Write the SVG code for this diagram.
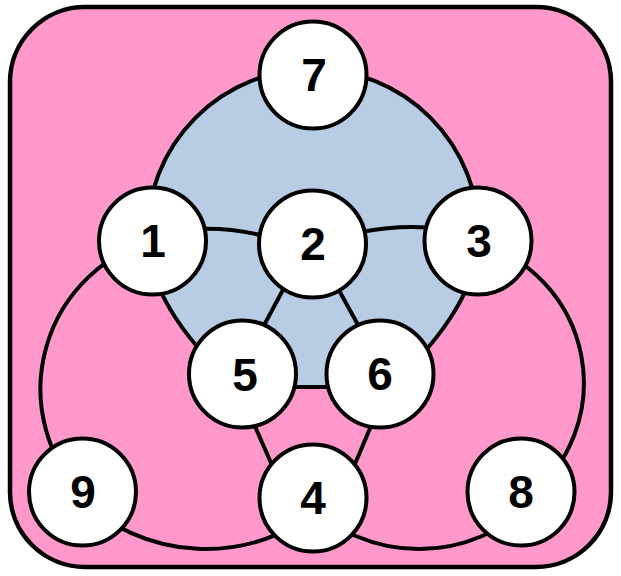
<svg xmlns="http://www.w3.org/2000/svg" width="621" height="576" viewBox="0 0 621 576">
  <style>
    .edge { fill: none; stroke: #000; stroke-width: 4; }
    .node circle { fill: #fff; stroke: #000; stroke-width: 4; }
    .node text { font-family: "Liberation Sans", "DejaVu Sans", sans-serif; font-weight: bold; font-size: 46px; text-anchor: middle; fill: #000; }
  </style>
  <rect x="10" y="7" width="601" height="560" rx="75" ry="75" fill="#ff99cc" stroke="#000" stroke-width="4.5"/>
  <path id="blue-region" d="M147,235 A166,166 0 0 1 479,235 C479,290 434,350 386,387 L240,387 C192,350 147,290 147,235 Z" fill="#b8cce4" stroke="#000" stroke-width="4"/>
  <g id="connectors">
    <path class="edge" d="M152,236 Q228,216 312,252"/>
    <path class="edge" d="M312,246 Q398,214 478,236"/>
    <path class="edge" d="M308,243 L238,374"/>
    <path class="edge" d="M313,243 L385,374"/>
    <path class="edge" d="M232,374 L286,497"/>
    <path class="edge" d="M393,374 L341,497"/>
    <path class="edge" d="M152.2,240.6 A154.5,154.5 0 0 0 81,493.4"/>
    <path class="edge" d="M477.3,242.4 A146,146 0 0 1 526.5,499"/>
    <path class="edge" d="M78,496.5 A182,182 0 0 0 321.6,507.5"/>
    <path class="edge" d="M306.9,503.2 A160,160 0 0 0 531.6,502.7"/>
  </g>
  <g id="node7" class="node"><circle cx="313" cy="75" r="53.5"/><text x="314" y="91">7</text></g>
  <g id="node1" class="node"><circle cx="152.5" cy="241" r="53.5"/><text x="153" y="257">1</text></g>
  <g id="node2" class="node"><circle cx="312.5" cy="244" r="53.5"/><text x="313" y="260">2</text></g>
  <g id="node3" class="node"><circle cx="478" cy="241" r="53.5"/><text x="479" y="257">3</text></g>
  <g id="node5" class="node"><circle cx="242.5" cy="374" r="53.5"/><text x="245" y="391">5</text></g>
  <g id="node6" class="node"><circle cx="380" cy="374" r="53.5"/><text x="380" y="390">6</text></g>
  <g id="node4" class="node"><circle cx="313" cy="498" r="53.5"/><text x="313" y="514">4</text></g>
  <g id="node9" class="node"><circle cx="82.5" cy="492" r="53.5"/><text x="83" y="508">9</text></g>
  <g id="node8" class="node"><circle cx="521" cy="492" r="53.5"/><text x="521" y="508">8</text></g>
</svg>
